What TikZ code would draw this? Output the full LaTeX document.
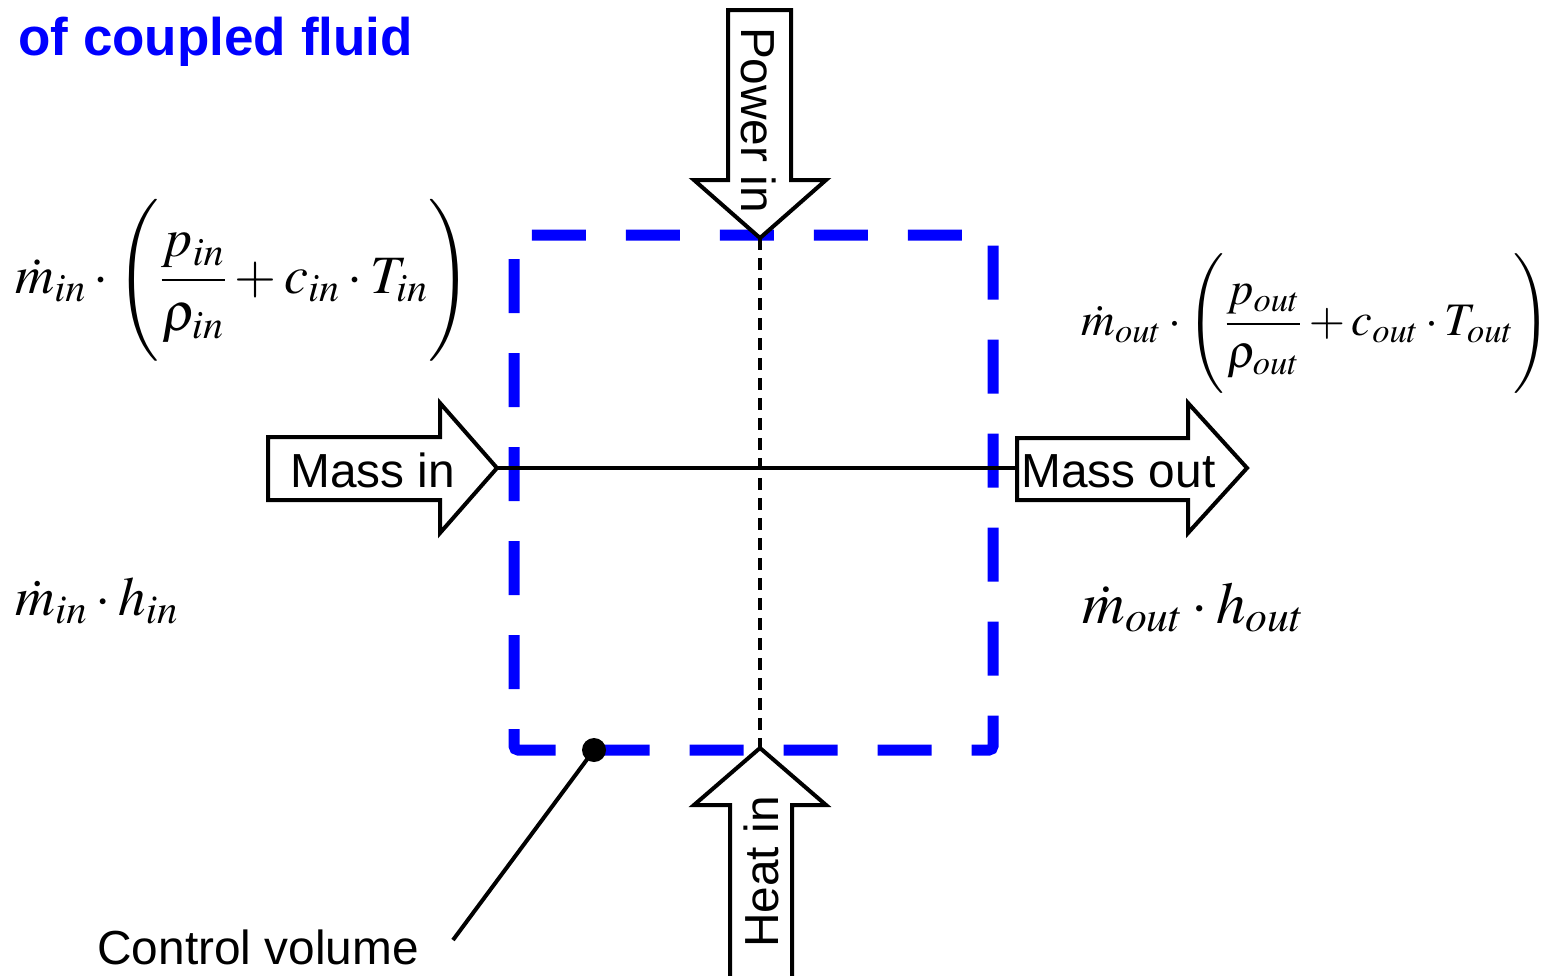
\documentclass[tikz,border=0pt]{standalone}
\usepackage{mathptmx}
\usepackage[no-math]{fontspec}
\newfontfamily\arial{Liberation Sans}
\definecolor{cvblue}{RGB}{0,0,255}
\newcommand{\tallstrut}[1]{\vcenter{\hbox{\rule{0pt}{#1}}}}
\begin{document}
\begin{tikzpicture}[x=0.5pt,y=-0.5pt,
  blockarrow/.style={draw=black,fill=white,line width=2pt,miter limit=10},
  lbl/.style={inner sep=0pt,font=\arial\fontsize{23.9}{28}\selectfont},
  cv/.style={draw=cvblue,line width=5.5pt,dash pattern=on 27pt off 20pt,rounded corners=2pt},
  eqn/.style={inner sep=0pt},
  flow/.style={line width=1.75pt},
  axis/.style={line width=1.7pt,dash pattern=on 6pt off 4pt}]
\useasboundingbox (0,0) rectangle (1545,975);

% control volume
\draw[cv] (553,750) -- (514,750) -- (514,235) -- (993,235) -- (993,750) -- cycle;

% block arrows
\draw[blockarrow] (728,10) -- (791,10) -- (791,180) -- (826,180) -- (760,238) -- (694,180) -- (728,180) -- cycle;
\draw[blockarrow] (730,995) -- (730,805) -- (694,805) -- (760,748) -- (826,805) -- (792,805) -- (792,995);
\draw[blockarrow] (268,437) -- (440,437) -- (440,403) -- (497,468) -- (440,533) -- (440,500) -- (268,500) -- cycle;
\draw[blockarrow] (1017,438) -- (1188,438) -- (1188,403) -- (1247,468) -- (1188,533) -- (1188,500) -- (1017,500) -- cycle;

\coordinate (ptip) at (760,238);
\coordinate (htip) at (760,748);
\coordinate (mintip) at (497,468);
\coordinate (moutbase) at (1017,468);

\draw[flow] (mintip) -- (moutbase);
\draw[axis] (ptip) -- (htip);

% labels
\node[lbl,anchor=base west] (massin) at (290,487) {Mass in};
\node[lbl,anchor=base west] (massout) at (1021,487) {Mass out};
\node[lbl,rotate=-90] (powerin) at (759,120) {Power in};
\node[lbl,rotate=90] (heatin) at (761,872) {Heat in};

\node[inner sep=0pt,anchor=base west,text=cvblue,font=\arial\bfseries\fontsize{26.5}{30}\selectfont] (title) at (18,55) {of coupled fluid};

% control volume pointer
\node[circle,fill=black,minimum size=12pt,inner sep=0pt] (dot) at (594,750) {};
\coordinate (cvend) at (453,940);
\draw[line width=2pt] (dot.center) -- (cvend);
\node[lbl,anchor=base west] (cvlabel) at (97,964) {Control volume};

% equations
\node[eqn,anchor=west,font=\fontsize{27}{30}\selectfont] (ein) at (15,280)
  {$\dot m_{in}\cdot\left(\tallstrut{76pt}\displaystyle\frac{p_{in}}{\rho_{in}}+c_{in}\cdot T_{in}\right)$};
\node[eqn,anchor=west,font=\fontsize{23.3}{27}\selectfont] (eout) at (1081,324)
  {$\dot m_{out}\cdot\left(\tallstrut{64pt}\displaystyle\frac{p_{out}}{\rho_{out}}+c_{out}\cdot T_{out}\right)$};
\node[eqn,anchor=base west,font=\fontsize{27.5}{30}\selectfont] (hin) at (15,615)
  {$\dot m_{in}\cdot h_{in}$};
\node[eqn,anchor=base west,font=\fontsize{29.5}{32}\selectfont] (hout) at (1082,623)
  {$\dot m_{out}\cdot h_{out}$};
\end{tikzpicture}
\end{document}
